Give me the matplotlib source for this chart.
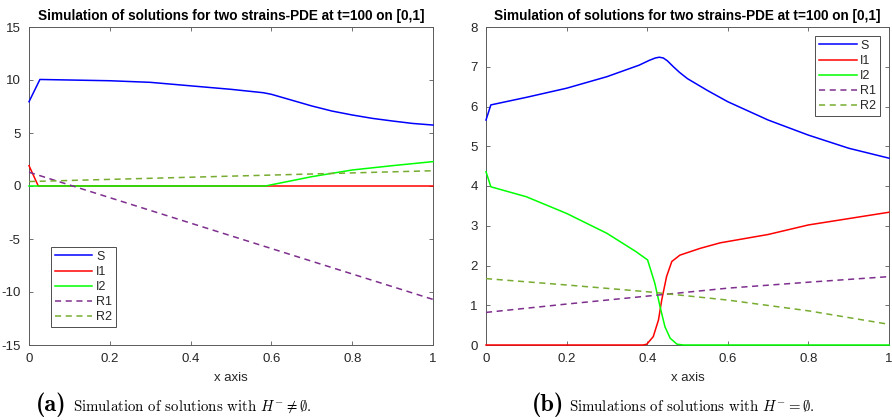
import matplotlib
matplotlib.use("Agg")
import matplotlib.pyplot as plt

plt.rcParams["font.family"] = ["Liberation Sans", "DejaVu Sans"]
plt.rcParams["mathtext.fontset"] = "cm"
plt.rcParams["axes.unicode_minus"] = False

TITLE = "Simulation of solutions for two strains-PDE at t=100 on [0,1]"
LABELS = ["S", "I1", "I2", "R1", "R2"]
COLORS = ["#0000ff", "#ff0000", "#00ff00", "#7e2f8e", "#77ac30"]
STYLES = ["-", "-", "-", "--", "--"]

# ---- panel (a): H^- not empty ----
a_s_x = [0, 0.027, 0.1, 0.2, 0.3, 0.4, 0.5, 0.58, 0.6, 0.65, 0.7, 0.75, 0.8, 0.85, 0.9, 0.95, 1.0]
a_s_y = [7.95, 10.05, 10.0, 9.93, 9.78, 9.45, 9.12, 8.8, 8.65, 8.1, 7.55, 7.07, 6.7, 6.38, 6.13, 5.9, 5.75]
a_i1_x = [0, 0.023, 1.0]
a_i1_y = [1.92, 0.0, 0.0]
a_i2_x = [0, 0.585, 0.7, 0.8, 0.9, 1.0]
a_i2_y = [0.0, 0.0, 0.88, 1.51, 1.92, 2.3]
a_r1_x = [0.0, 1.0]
a_r1_y = [1.3, -10.7]
a_r2_x = [0.0, 1.0]
a_r2_y = [0.42, 1.44]

# ---- panel (b): H^- empty ----
b_s_x = [0, 0.012, 0.1, 0.2, 0.3, 0.38, 0.405, 0.42, 0.43, 0.44, 0.45, 0.465, 0.48, 0.5, 0.55, 0.6, 0.7, 0.8, 0.9, 1.0]
b_s_y = [5.66, 6.04, 6.23, 6.46, 6.75, 7.04, 7.16, 7.22, 7.24, 7.22, 7.15, 7.0, 6.86, 6.7, 6.4, 6.12, 5.66, 5.28, 4.95, 4.70]
b_i1_x = [0, 0.39, 0.399, 0.415, 0.428, 0.436, 0.448, 0.461, 0.481, 0.531, 0.581, 0.7, 0.8, 0.9, 1.0]
b_i1_y = [0, 0.0, 0.02, 0.21, 0.63, 1.13, 1.72, 2.10, 2.26, 2.43, 2.57, 2.78, 3.02, 3.18, 3.34]
b_i2_x = [0, 0.012, 0.1, 0.2, 0.3, 0.372, 0.401, 0.419, 0.432, 0.444, 0.457, 0.474, 0.49, 1.0]
b_i2_y = [4.36, 3.98, 3.73, 3.31, 2.81, 2.35, 2.14, 1.55, 0.96, 0.46, 0.17, 0.02, 0.0, 0.0]
b_r1_x = [0, 0.2, 0.4, 0.6, 0.8, 1.0]
b_r1_y = [0.82, 1.03, 1.23, 1.43, 1.58, 1.72]
b_r2_x = [0, 0.2, 0.4, 0.6, 0.8, 1.0]
b_r2_y = [1.67, 1.51, 1.34, 1.13, 0.86, 0.52]

panels = [
    dict(series=[(a_s_x, a_s_y), (a_i1_x, a_i1_y), (a_i2_x, a_i2_y), (a_r1_x, a_r1_y), (a_r2_x, a_r2_y)],
         ylim=(-15, 15), yticks=[-15, -10, -5, 0, 5, 10, 15],
         rect=[29 / 892, 75 / 420, 404 / 892, 318 / 420],
         leg=dict(loc="lower left", anchor=(51 / 892, 1 - 327 / 420)),
         cap_bold="(a)", cap_text=r"Simulation of solutions with $H^{-}\neq\emptyset$.",
         cap_x=(36 / 892, 73 / 892)),
    dict(series=[(b_s_x, b_s_y), (b_i1_x, b_i1_y), (b_i2_x, b_i2_y), (b_r1_x, b_r1_y), (b_r2_x, b_r2_y)],
         ylim=(0, 8), yticks=list(range(0, 9)),
         rect=[486 / 892, 75 / 420, 403 / 892, 318 / 420],
         leg=dict(loc="upper right", anchor=(880 / 892, 1 - 36 / 420)),
         cap_bold="(b)", cap_text=r"Simulations of solutions with $H^{-}=\emptyset$.",
         cap_x=(532 / 892, 569 / 892)),
]

fig = plt.figure(figsize=(8.92, 4.2), dpi=100)
axcol = "#5a5a5a"
txtcol = "#262626"

for p in panels:
    ax = fig.add_axes(p["rect"])
    for (xs, ys), lab, col, ls in zip(p["series"], LABELS, COLORS, STYLES):
        ax.plot(xs, ys, color=col, ls=ls, lw=1.1, label=lab, zorder=3, clip_on=False,
                dashes=(4, 3) if ls == "--" else (None, None))
    ax.set_xlim(0, 1)
    ax.set_ylim(*p["ylim"])
    ax.set_xticks([0, 0.2, 0.4, 0.6, 0.8, 1])
    ax.set_xticklabels(["0", "0.2", "0.4", "0.6", "0.8", "1"])
    ax.set_yticks(p["yticks"])
    ax.tick_params(direction="in", top=True, right=True, length=3, width=0.6,
                   labelsize=9.5, colors=axcol, labelcolor=txtcol, pad=6)
    for sp in ax.spines.values():
        sp.set_color(axcol)
        sp.set_linewidth(0.7)
    ax.set_xlabel("x axis", fontsize=9.5, color=txtcol, labelpad=5)
    ax.set_title(TITLE, fontsize=9.8, fontweight="bold", color="black", pad=5)
    leg = ax.legend(loc=p["leg"]["loc"], bbox_to_anchor=p["leg"]["anchor"],
                    bbox_transform=fig.transFigure, borderaxespad=0, fontsize=9,
                    handlelength=3.0, labelspacing=0.25, handletextpad=0.3,
                    borderpad=0.3, fancybox=False, framealpha=1)
    leg.get_frame().set_edgecolor("#4d4d4d")
    leg.get_frame().set_linewidth(0.7)
    for t in leg.get_texts():
        t.set_color(txtcol)
    fig.text(p["cap_x"][0], 1 - 411 / 420, p["cap_bold"], fontsize=17.5, family="cmb10",
             va="baseline", ha="left")
    fig.text(p["cap_x"][1], 1 - 411 / 420, p["cap_text"], fontsize=10.7, family="cmr10",
             va="baseline", ha="left")

fig.savefig("out.png", dpi=100)
